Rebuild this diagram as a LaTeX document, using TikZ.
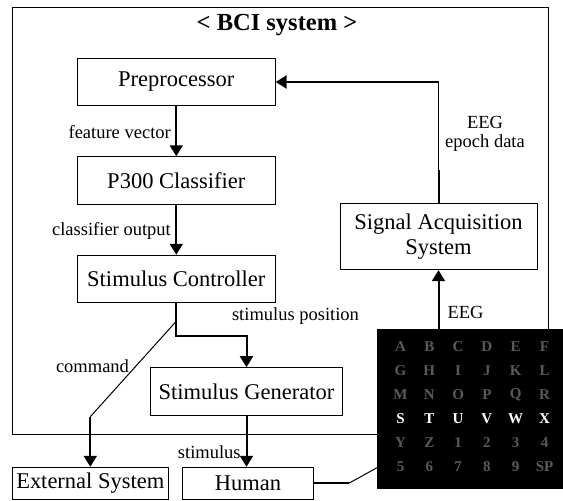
\documentclass[tikz,border=0pt]{standalone}
\usepackage{fontspec}
\setmainfont{Liberation Serif}
\usetikzlibrary{arrows.meta}
\definecolor{lettergray}{RGB}{90,90,90}
\begin{document}
\begin{tikzpicture}[x=1pt,y=-1pt,
  box/.style={draw,line width=1pt,inner sep=0pt,font=\fontsize{22.5}{25}\selectfont,align=center},
  lbl/.style={font=\fontsize{18.5}{19}\selectfont,inner sep=0pt,align=center},
  arr/.style={line width=2pt,-{Triangle[width=13pt,length=11pt]}},
  thk/.style={line width=2pt},
  thn/.style={line width=1pt},
  cell/.style={font=\fontsize{15}{15}\selectfont\bfseries,inner sep=0pt}]
\useasboundingbox (0,0) rectangle (563,501);
% outer BCI system frame
\node[draw,line width=1pt,minimum width=536pt,minimum height=427pt,inner sep=0pt,anchor=north west] (bci) at (12,7) {};
\node[font=\fontsize{24.5}{26}\selectfont\bfseries,inner sep=0pt] (title) at (277,25) {< BCI system >};
% boxes
\node[box,minimum width=197.7pt,minimum height=47.5pt] (pre) at (176.3,82) {Preprocessor};
\node[box,minimum width=197.7pt,minimum height=47.5pt] (p300) at (176.3,180.5) {P300 Classifier};
\node[box,minimum width=197.7pt,minimum height=47.5pt] (ctrl) at (176.3,279) {Stimulus Controller};
\node[box,minimum width=191.7pt,minimum height=48pt] (gen) at (246.5,391.7) {Stimulus Generator};
\node[box,minimum width=197pt,minimum height=66pt] (sig) at (438.5,236.7) {Signal Acquisition\\System};
\node[box,minimum width=156pt,minimum height=32pt] (ext) at (90.3,483.3) {External System};
\node[box,minimum width=130.6pt,minimum height=32pt] (human) at (248,483.3) {Human};
% speller matrix
\node[fill=black,minimum width=186pt,minimum height=160pt,inner sep=0pt,anchor=north west] (mat) at (377,329) {};
\foreach \row [count=\j] in {{A,B,C,D,E,F},{G,H,I,J,K,L},{M,N,O,P,Q,R},{S,T,U,V,W,X},{Y,Z,1,2,3,4},{5,6,7,8,9,SP}} {
  \foreach \c [count=\i] in \row {
    \ifnum\j=4 \def\cc{white}\else\def\cc{lettergray}\fi
    \node[cell,text=\cc] (m\j\i) at ({400.5+28.8*(\i-1)},{347+24*(\j-1)}) {\c};
  }
}
% labels
\node[lbl,anchor=east] (fv) at (171,132) {feature vector};
\node[lbl,anchor=east] (co) at (171,231) {classifier output};
\node[lbl] (sp) at (295.5,316) {stimulus position};
\node[lbl] (cmd) at (92.5,366) {command};
\node[lbl] (stl) at (209.3,451.7) {stimulus};
\node[lbl] (eeg2) at (465.5,312) {EEG};
\node[lbl] (eeg1) at (485,134) {EEG\\epoch data};
% connectors
\draw[arr] (pre.south) -- (p300.north);
\draw[arr] (p300.south) -- (ctrl.north);
\path (ctrl.south) ++(0,33) coordinate (k1);
\draw[arr] (ctrl.south) -- (k1) -| (gen.north);
\path (ctrl.south) ++(0,18) coordinate (d1);
\coordinate (d2) at (ext.north |- 0,416.7);
\draw[thn] (d1) -- (d2);
\draw[arr] (d2) -- (ext.north);
\draw[arr] (gen.south) -- (gen.south |- human.north);
\draw[arr] (sig.south |- mat.north) -- (sig.south);
\path (sig.north) ++(0,-33) coordinate (s1);
\coordinate (s2) at (sig.north |- pre.east);
\draw[thk] (sig.north) -- (s1);
\draw[thn] (s1) -- (s2);
\draw[arr] (s2) -- (pre.east);
\path (human.east) ++(35,0) coordinate (h1);
\coordinate (h2) at (mat.west |- 0,467.7);
\draw[thk] (human.east) -- (h1);
\draw[thn] (h1) -- (h2);
\end{tikzpicture}
\end{document}
